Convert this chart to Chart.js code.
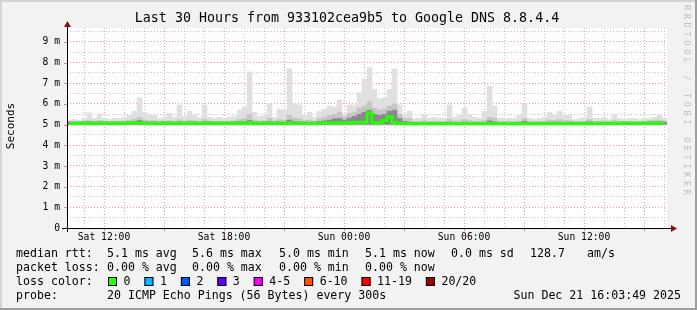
<!DOCTYPE html>
<html>
<head>
<meta charset="utf-8">
<title>Last 30 Hours from 933102cea9b5 to Google DNS 8.8.4.4</title>
<script src="https://cdn.jsdelivr.net/npm/chart.js@4.4.1/dist/chart.umd.min.js"></script>
<style>
  html, body { margin: 0; padding: 0; background: #f0f0f0; }
  canvas { display: block; }
</style>
</head>
<body>
<canvas id="smokeChart" width="697" height="310"></canvas>
<script>
// time axis in hours counted from Sat 00:00, 15 minute bins
const startHour = 10.15;
const endHour = 40.15;
const binHours = 0.25;

const xGridHours = [11, 12, 13, 14, 15, 16, 17, 18, 19, 20, 21, 22, 23, 24, 25,
  26, 27, 28, 29, 30, 31, 32, 33, 34, 35, 36, 37, 38, 39, 40];
const xTickHours = [12, 18, 24, 30, 36];
const xTickLabels = ['Sat 12:00', 'Sat 18:00', 'Sun 00:00', 'Sun 06:00', 'Sun 12:00'];

const yGridValues = [0, 0.5, 1, 1.5, 2, 2.5, 3, 3.5, 4, 4.5, 5, 5.5, 6, 6.5, 7, 7.5, 8, 8.5, 9, 9.5];
const yTickValues = [0, 1, 2, 3, 4, 5, 6, 7, 8, 9];
const yTickLabels = ['0', '1 m', '2 m', '3 m', '4 m', '5 m', '6 m', '7 m', '8 m', '9 m'];
const yMax = 9.675;

// smoke: highest ping of each bin (ms)
const smokeMax = [
  5.22, 5.25, 5.20, 5.30, 5.58, 5.30, 5.52, 5.30, 5.25, 5.30,
  5.30, 5.35, 5.45, 5.65, 6.30, 5.60, 5.50, 5.45, 5.30, 5.35,
  5.55, 5.35, 5.95, 5.40, 5.65, 5.45, 5.35, 5.95, 5.35, 5.30,
  5.35, 5.30, 5.35, 5.40, 5.70, 5.85, 7.55, 5.60, 5.40, 5.45,
  6.00, 5.35, 5.75, 5.70, 7.70, 6.00, 5.95, 5.45, 5.60, 5.35,
  5.65, 5.75, 5.90, 5.85, 6.20, 5.50, 5.95, 5.95, 6.55, 7.20,
  7.75, 6.70, 6.25, 6.30, 6.70, 7.70, 5.95, 5.50, 5.65, 5.30,
  5.30, 5.50, 5.30, 5.35, 5.30, 5.30, 5.95, 5.35, 5.45, 5.80,
  5.50, 5.35, 5.30, 5.65, 6.85, 5.90, 5.30, 5.30, 5.30, 5.30,
  5.45, 6.00, 5.30, 5.25, 5.30, 5.35, 5.60, 5.45, 5.65, 5.45,
  5.45, 5.25, 5.30, 5.35, 5.85, 5.30, 5.30, 5.35, 5.25, 5.50,
  5.30, 5.25, 5.30, 5.30, 5.25, 5.30, 5.30, 5.35, 5.45, 5.30
];

// smoke: upper quartile of each bin (ms)
const smokeMid = [
  5.16, 5.17, 5.16, 5.18, 5.20, 5.17, 5.20, 5.17, 5.16, 5.17,
  5.17, 5.18, 5.22, 5.28, 5.35, 5.22, 5.20, 5.20, 5.17, 5.17,
  5.20, 5.17, 5.25, 5.18, 5.22, 5.20, 5.17, 5.25, 5.17, 5.16,
  5.17, 5.16, 5.17, 5.18, 5.25, 5.30, 5.50, 5.22, 5.18, 5.20,
  5.30, 5.18, 5.25, 5.22, 5.45, 5.30, 5.28, 5.20, 5.22, 5.18,
  5.30, 5.35, 5.45, 5.50, 5.60, 5.40, 5.55, 5.60, 5.80, 5.90,
  6.10, 5.80, 5.70, 5.75, 5.90, 6.00, 5.50, 5.30, 5.30, 5.16,
  5.16, 5.20, 5.16, 5.17, 5.16, 5.16, 5.25, 5.17, 5.18, 5.25,
  5.20, 5.17, 5.16, 5.22, 5.35, 5.30, 5.16, 5.16, 5.16, 5.16,
  5.18, 5.30, 5.16, 5.16, 5.16, 5.17, 5.22, 5.20, 5.25, 5.20,
  5.20, 5.16, 5.16, 5.17, 5.25, 5.16, 5.16, 5.17, 5.16, 5.20,
  5.16, 5.16, 5.16, 5.16, 5.16, 5.17, 5.20, 5.22, 5.22, 5.18
];

// smoke: pings just above the median (ms)
const smokeDark = [
  5.12, 5.12, 5.12, 5.12, 5.13, 5.12, 5.13, 5.12, 5.12, 5.12,
  5.12, 5.12, 5.13, 5.15, 5.20, 5.13, 5.12, 5.12, 5.12, 5.12,
  5.12, 5.12, 5.13, 5.12, 5.12, 5.12, 5.12, 5.13, 5.12, 5.12,
  5.12, 5.12, 5.12, 5.12, 5.13, 5.14, 5.20, 5.12, 5.12, 5.12,
  5.14, 5.12, 5.13, 5.12, 5.22, 5.14, 5.13, 5.12, 5.12, 5.12,
  5.15, 5.18, 5.22, 5.28, 5.30, 5.22, 5.32, 5.40, 5.50, 5.60,
  5.70, 5.50, 5.45, 5.50, 5.65, 5.70, 5.30, 5.15, 5.12, 5.10,
  5.10, 5.10, 5.10, 5.10, 5.10, 5.10, 5.12, 5.10, 5.10, 5.12,
  5.10, 5.10, 5.10, 5.11, 5.18, 5.13, 5.10, 5.10, 5.10, 5.10,
  5.10, 5.15, 5.10, 5.10, 5.10, 5.10, 5.12, 5.11, 5.12, 5.11,
  5.11, 5.10, 5.10, 5.11, 5.13, 5.10, 5.10, 5.11, 5.10, 5.11,
  5.10, 5.10, 5.11, 5.11, 5.10, 5.11, 5.12, 5.12, 5.12, 5.11
];

// median rtt of each bin (ms), packet loss 0 everywhere
const medianRtt = [
  5.07, 5.06, 5.07, 5.08, 5.07, 5.06, 5.07, 5.08, 5.07, 5.06,
  5.07, 5.07, 5.08, 5.09, 5.09, 5.07, 5.06, 5.07, 5.07, 5.08,
  5.07, 5.06, 5.07, 5.07, 5.08, 5.07, 5.06, 5.07, 5.08, 5.07,
  5.07, 5.06, 5.07, 5.07, 5.08, 5.08, 5.09, 5.07, 5.06, 5.07,
  5.08, 5.07, 5.07, 5.06, 5.08, 5.09, 5.07, 5.07, 5.06, 5.07,
  5.07, 5.08, 5.09, 5.08, 5.09, 5.07, 5.09, 5.10, 5.11, 5.12,
  5.58, 5.10, 5.09, 5.20, 5.38, 5.10, 5.06, 5.05, 5.05, 5.04,
  5.05, 5.05, 5.04, 5.05, 5.05, 5.04, 5.05, 5.05, 5.04, 5.05,
  5.05, 5.05, 5.06, 5.05, 5.06, 5.06, 5.05, 5.05, 5.05, 5.04,
  5.05, 5.06, 5.05, 5.05, 5.06, 5.05, 5.06, 5.07, 5.06, 5.06,
  5.07, 5.06, 5.05, 5.06, 5.07, 5.06, 5.07, 5.07, 5.06, 5.07,
  5.07, 5.08, 5.07, 5.06, 5.07, 5.08, 5.08, 5.07, 5.08, 5.07
];

const lossLabels = ['0', '1', '2', '3', '4-5', '6-10', '11-19', '20/20'];
const lossColors = ['#22ff00', '#00b8ff', '#0059ff', '#5e00ff', '#ff00ff', '#ff5500', '#ff0000', '#a10000'];

const MONO = '"DejaVu Sans Mono", "Liberation Mono", monospace';

const binCentres = medianRtt.map((_, i) => startHour + (i + 0.5) * binHours);

function smokeBand(values, low) {
  return values.map((v, i) => ({ x: binCentres[i], y: [low, v] }));
}

// higher order is drawn further back
function smokeDataset(values, low, color, order) {
  return {
    type: 'bar',
    order: order,
    data: smokeBand(values, low),
    backgroundColor: color,
    borderWidth: 0,
    grouped: false,
    barPercentage: 1,
    categoryPercentage: 1
  };
}

// Frame, axes, title and the rrdtool style legend
const rrdDecor = {
  id: 'rrdDecor',
  beforeDraw(chart) {
    const c = chart.ctx;
    const a = chart.chartArea;
    c.save();
    c.fillStyle = '#f2f2f2';
    c.fillRect(0, 0, chart.width, chart.height);
    c.fillStyle = '#d4d4d4';
    c.fillRect(0, 0, chart.width, 2);
    c.fillRect(0, 0, 2, chart.height);
    c.fillStyle = '#9e9e9e';
    c.fillRect(0, chart.height - 2, chart.width, 2);
    c.fillRect(chart.width - 2, 0, 2, chart.height);
    c.fillStyle = '#ffffff';
    c.fillRect(a.left, a.top, a.right - a.left, a.bottom - a.top);
    c.restore();
  },
  afterDraw(chart) {
    const c = chart.ctx;
    const a = chart.chartArea;
    const xs = chart.scales.x;
    const ys = chart.scales.y;
    c.save();

    // tick marks
    c.lineWidth = 1;
    c.strokeStyle = '#f08080';
    xGridHours.filter(h => h % 3 === 0).forEach(h => {
      const px = Math.round(xs.getPixelForValue(h)) + 0.5;
      c.beginPath(); c.moveTo(px, a.bottom); c.lineTo(px, a.bottom + 3); c.stroke();
    });
    yTickValues.forEach(v => {
      const py = Math.round(ys.getPixelForValue(v)) + 0.5;
      c.beginPath(); c.moveTo(a.left - 3, py); c.lineTo(a.left, py); c.stroke();
    });

    // axes with arrows
    c.strokeStyle = '#000000';
    c.beginPath();
    c.moveTo(a.left - 5, a.bottom + 0.5); c.lineTo(a.right + 5, a.bottom + 0.5);
    c.moveTo(a.left + 0.5, a.bottom + 4); c.lineTo(a.left + 0.5, a.top - 4);
    c.stroke();
    c.fillStyle = '#8b1010';
    c.beginPath();
    c.moveTo(a.right + 10, a.bottom + 0.5);
    c.lineTo(a.right + 4, a.bottom - 3);
    c.lineTo(a.right + 4, a.bottom + 4);
    c.closePath(); c.fill();
    c.beginPath();
    c.moveTo(a.left + 0.5, a.top - 7);
    c.lineTo(a.left - 3, a.top - 1);
    c.lineTo(a.left + 4, a.top - 1);
    c.closePath(); c.fill();

    // title
    c.fillStyle = '#000000';
    c.textBaseline = 'middle';
    c.textAlign = 'center';
    c.font = '13.3px ' + MONO;
    c.fillText('Last 30 Hours from 933102cea9b5 to Google DNS 8.8.4.4', 347, 19);

    // vertical unit label
    c.save();
    c.translate(11, 126);
    c.rotate(-Math.PI / 2);
    c.font = '11px ' + MONO;
    c.fillText('Seconds', 0, 0);
    c.restore();

    // watermark
    c.save();
    c.translate(686, 5);
    c.rotate(Math.PI / 2);
    c.fillStyle = '#bdbdbd';
    c.font = '8.5px ' + MONO;
    c.textAlign = 'left';
    const mark = 'RRDTOOL / TOBI OETIKER';
    for (let i = 0; i < mark.length; i++) c.fillText(mark[i], i * 8.8, 0);
    c.restore();

    // legend rows
    c.font = '11.6px ' + MONO;
    c.textAlign = 'left';
    const rows = [
      [254, [[16, 'median rtt:'], [107, '5.1 ms avg'], [192, '5.6 ms max'], [279, '5.0 ms min'],
             [365, '5.1 ms now'], [451, '0.0 ms sd'], [530, '128.7'], [587, 'am/s']]],
      [268, [[16, 'packet loss:'], [107, '0.00 % avg'], [192, '0.00 % max'], [279, '0.00 % min'],
             [365, '0.00 % now']]],
      [282, [[16, 'loss color:']]],
      [296, [[16, 'probe:'], [107, '20 ICMP Echo Pings (56 Bytes) every 300s']]]
    ];
    rows.forEach(([y, parts]) => parts.forEach(([x, t]) => c.fillText(t, x, y)));
    c.textAlign = 'right';
    c.fillText('Sun Dec 21 16:03:49 2025', 681, 296);

    c.textAlign = 'left';
    let bx = 108;
    lossLabels.forEach((label, i) => {
      c.fillStyle = lossColors[i];
      c.fillRect(bx, 277, 9, 9);
      c.strokeStyle = '#000000';
      c.strokeRect(bx + 0.5, 277.5, 8, 8);
      c.fillStyle = '#000000';
      c.fillText(label, bx + 15.5, 282);
      bx += 15.5 + c.measureText(label + '  ').width;
    });

    c.restore();
  }
};

function gridColor(major) {
  return major ? 'rgba(240, 120, 120, 0.75)' : 'rgba(190, 190, 190, 0.9)';
}

const ctx = document.getElementById('smokeChart').getContext('2d');

new Chart(ctx, {
  type: 'bar',
  data: {
    datasets: [
      smokeDataset(smokeMax, 4.96, '#e0e0e0', 4),
      smokeDataset(smokeMid, 5.0, '#c6c6c6', 3),
      smokeDataset(smokeDark, 5.02, '#8a8a8a', 2),
      {
        type: 'line',
        order: 1,
        data: medianRtt.map((v, i) => ({ x: binCentres[i], y: v })),
        borderColor: '#22ff00',
        borderWidth: 3,
        pointRadius: 0,
        stepped: 'middle',
        fill: false
      }
    ]
  },
  options: {
    responsive: false,
    animation: false,
    devicePixelRatio: 1,
    layout: {
      padding: { top: 28, right: 30, left: 0, bottom: 0 }
    },
    plugins: {
      legend: { display: false },
      tooltip: { enabled: false }
    },
    scales: {
      x: {
        type: 'linear',
        min: startHour,
        max: endHour,
        offset: false,
        afterFit: scale => { scale.height = 82; },
        afterBuildTicks: scale => { scale.ticks = xGridHours.map(v => ({ value: v })); },
        grid: {
          offset: false,
          drawTicks: false,
          color: c => gridColor(c.tick && c.tick.value % 3 === 0)
        },
        border: { display: false, dash: [1, 2] },
        ticks: {
          autoSkip: false,
          maxRotation: 0,
          padding: 4,
          color: '#000000',
          font: { family: MONO, size: 9.7 },
          callback: value => {
            const k = xTickHours.indexOf(value);
            return k >= 0 ? xTickLabels[k] : '';
          }
        }
      },
      y: {
        min: 0,
        max: yMax,
        afterFit: scale => { scale.width = 67; },
        afterBuildTicks: scale => { scale.ticks = yGridValues.map(v => ({ value: v })); },
        grid: {
          drawTicks: false,
          color: c => gridColor(c.tick && Number.isInteger(c.tick.value))
        },
        border: { display: false, dash: [1, 2] },
        ticks: {
          autoSkip: false,
          padding: 7,
          color: '#000000',
          font: { family: MONO, size: 9.7 },
          callback: value => {
            const k = yTickValues.indexOf(value);
            return k >= 0 ? yTickLabels[k] : '';
          }
        }
      }
    }
  },
  plugins: [rrdDecor]
});
</script>
</body>
</html>
